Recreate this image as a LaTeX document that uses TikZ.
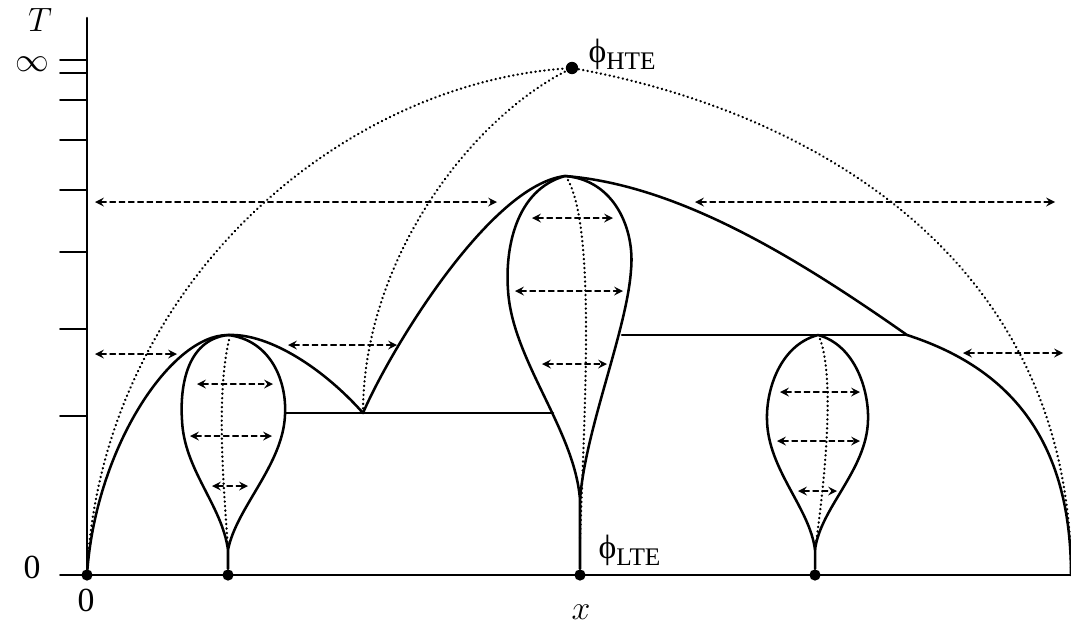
\documentclass[tikz,border=0pt]{standalone}
\usepackage{fontspec}
\setmainfont{Liberation Serif}
\begin{document}
\begin{tikzpicture}[x=0.0125cm, y=-0.0125cm, line join=round, line cap=round, >=stealth,
  curve/.style={line width=.9pt},
  dots/.style={line width=.85pt, dash pattern=on .1pt off 1.5pt},
  arr/.style={<->, line width=.4pt, dash pattern=on 2pt off 1.3pt},
  dot/.style={circle, fill, inner sep=0pt, minimum size=4pt}]
\useasboundingbox (0,0) rectangle (1071,626);
\coordinate (O) at (87,575);
\coordinate (A) at (228,335);
\coordinate (V) at (363,413);
\coordinate (B) at (565,176);
\coordinate (K) at (907,335);
\coordinate (E) at (1071,575);
\coordinate (C) at (818,335);
\node[dot, minimum size=4.4pt] (H) at (572,68) {};
\node[dot] (L0) at (87,575) {};
\node[dot] (L1) at (228,575) {};
\node[dot] (L2) at (580,575) {};
\node[dot] (L3) at (815,575) {};
\draw[line width=.9pt] (87,18)--(O);
\draw[line width=.7pt] (60,575)--(1071,575);
\foreach \y in {60,73,100,140,190,252,329,416}
\draw[line width=.6pt] (60,\y)--(87,\y);
\draw[curve] (O) .. controls (95,450) and (170,335) .. (A) .. controls (270,333) and (325,370) .. (V) .. controls (390,350) and (490,185) .. (B) .. controls (680,185) and (800,260) .. (K) .. controls (1000,365) and (1071,430) .. (E);
\draw[curve] (285,413)--(553,413) (622,335)--(K);
\draw[curve] (L1)--(228,550) .. controls (236,508) and (283,465) .. (285,415) .. controls (287,380) and (270,340) .. (A) .. controls (185,340) and (180,390) .. (182,420) .. controls (184,470) and (222,505) .. (228,550);
\draw[curve] (L2)--(580,500) .. controls (585,430) and (627,330) .. (631,270) .. controls (635,230) and (615,180) .. (B) .. controls (515,190) and (505,250) .. (508,290) .. controls (512,360) and (575,430) .. (580,500);
\draw[curve] (L3)--(815,550) .. controls (820,508) and (867,470) .. (868,420) .. controls (869,390) and (855,345) .. (C) .. controls (780,345) and (766,390) .. (767,420) .. controls (768,470) and (810,508) .. (815,550);
\draw[dots] (O) .. controls (100,290) and (335,85) .. (H) .. controls (800,110) and (1071,250) .. (E);
\draw[dots] (V) .. controls (363,260) and (470,120) .. (H);
\draw[dots] (229,340) .. controls (215,400) and (225,500) .. (228,550);
\draw[dots] (568,180) .. controls (595,230) and (585,400) .. (580,540);
\draw[dots] (820,339) .. controls (835,380) and (825,480) .. (815,550);
\foreach \y/\a/\b in {202/95/497, 202/695/1055, 354/95/177, 345/288/397, 353/963/1063,
  384/197/273, 436/190/272, 486/212/248, 218/532/613, 291/515/623, 364/542/607,
  392/780/860, 441/777/860, 491/798/837}
\draw[arr] (\a,\y)--(\b,\y);
\node[inner sep=0pt] (Tl) at (40,20) {\large$T$};
\node[inner sep=0pt] (inf) at (32,64) {\large$\infty$};
\node (zl) at (32,567) {\large 0};
\node (zb) at (86,600) {\large 0};
\node (xl) at (581,612) {\large$x$};
\node[anchor=base west, inner sep=0pt] (hte) at (588,62) {\large ϕ\raisebox{-2.5pt}{\small HTE}};
\node[anchor=base west, inner sep=0pt] (lte) at (598,558) {\large ϕ\raisebox{-2.5pt}{\small LTE}};
\end{tikzpicture}
\end{document}
